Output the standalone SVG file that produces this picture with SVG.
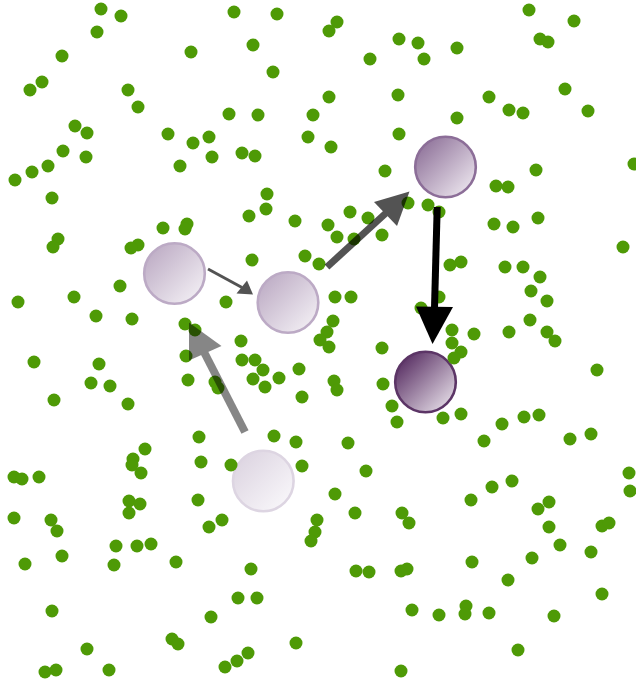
<svg xmlns="http://www.w3.org/2000/svg" width="636" height="682" viewBox="0 0 636 682">
  <style>
    .dot { fill: #4e9a06; }
    .node { stroke-width: 2.6; }
  </style>
  <defs>
    <linearGradient id="gLight" x1="0" y1="0" x2="1" y2="1">
      <stop offset="0" stop-color="#b7a4bf"/>
      <stop offset="1" stop-color="#f8f6f9"/>
    </linearGradient>
    <linearGradient id="gMid" x1="0" y1="0" x2="1" y2="1">
      <stop offset="0" stop-color="#846590"/>
      <stop offset="1" stop-color="#f6f2f7"/>
    </linearGradient>
    <linearGradient id="gDark" x1="0" y1="0" x2="1" y2="1">
      <stop offset="0.08" stop-color="#54295f"/>
      <stop offset="1" stop-color="#f4f0f5"/>
    </linearGradient>
    <linearGradient id="gPale" x1="0" y1="0" x2="1" y2="1">
      <stop offset="0" stop-color="#d9d0de"/>
      <stop offset="1" stop-color="#fcfbfd"/>
    </linearGradient>
  </defs>

  <!-- nodes -->
  <g id="node-a"><circle class="node" cx="174.5" cy="273.5" r="30.3" fill="url(#gLight)" stroke="#bcaac5"/></g>
  <g id="node-b"><circle class="node" cx="288" cy="302.5" r="30.3" fill="url(#gLight)" stroke="#bcaac5"/></g>
  <g id="node-c"><circle class="node" cx="445.5" cy="167" r="30.3" fill="url(#gMid)" stroke="#8c6e98"/></g>
  <g id="node-d"><circle class="node" cx="425.5" cy="382" r="30.3" fill="url(#gDark)" stroke="#5c3566" stroke-width="3"/></g>
  <g id="node-e"><circle class="node" cx="263.3" cy="481" r="30.3" fill="url(#gPale)" stroke="#ddd5e2"/></g>

  <!-- scattered particles -->
  <g id="particles">
    <circle class="dot" cx="101" cy="9" r="6.5"/>
    <circle class="dot" cx="121" cy="16" r="6.5"/>
    <circle class="dot" cx="97" cy="32" r="6.5"/>
    <circle class="dot" cx="62" cy="56" r="6.5"/>
    <circle class="dot" cx="42" cy="82" r="6.5"/>
    <circle class="dot" cx="30" cy="90" r="6.5"/>
    <circle class="dot" cx="128" cy="90" r="6.5"/>
    <circle class="dot" cx="138" cy="107" r="6.5"/>
    <circle class="dot" cx="75" cy="126" r="6.5"/>
    <circle class="dot" cx="87" cy="133" r="6.5"/>
    <circle class="dot" cx="63" cy="151" r="6.5"/>
    <circle class="dot" cx="86" cy="157" r="6.5"/>
    <circle class="dot" cx="48" cy="166" r="6.5"/>
    <circle class="dot" cx="32" cy="172" r="6.5"/>
    <circle class="dot" cx="15" cy="180" r="6.5"/>
    <circle class="dot" cx="52" cy="198" r="6.5"/>
    <circle class="dot" cx="168" cy="134" r="6.5"/>
    <circle class="dot" cx="193" cy="143" r="6.5"/>
    <circle class="dot" cx="209" cy="137" r="6.5"/>
    <circle class="dot" cx="212" cy="157" r="6.5"/>
    <circle class="dot" cx="180" cy="166" r="6.5"/>
    <circle class="dot" cx="191" cy="52" r="6.5"/>
    <circle class="dot" cx="234" cy="12" r="6.5"/>
    <circle class="dot" cx="277" cy="14" r="6.5"/>
    <circle class="dot" cx="253" cy="45" r="6.5"/>
    <circle class="dot" cx="273" cy="72" r="6.5"/>
    <circle class="dot" cx="229" cy="114" r="6.5"/>
    <circle class="dot" cx="258" cy="115" r="6.5"/>
    <circle class="dot" cx="313" cy="115" r="6.5"/>
    <circle class="dot" cx="308" cy="137" r="6.5"/>
    <circle class="dot" cx="242" cy="153" r="6.5"/>
    <circle class="dot" cx="255" cy="156" r="6.5"/>
    <circle class="dot" cx="267" cy="194" r="6.5"/>
    <circle class="dot" cx="266" cy="209" r="6.5"/>
    <circle class="dot" cx="249" cy="216" r="6.5"/>
    <circle class="dot" cx="295" cy="221" r="6.5"/>
    <circle class="dot" cx="163" cy="228" r="6.5"/>
    <circle class="dot" cx="187" cy="224" r="6.5"/>
    <circle class="dot" cx="185" cy="229" r="6.5"/>

    <circle class="dot" cx="337" cy="22" r="6.5"/>
    <circle class="dot" cx="329" cy="31" r="6.5"/>
    <circle class="dot" cx="399" cy="39" r="6.5"/>
    <circle class="dot" cx="418" cy="43" r="6.5"/>
    <circle class="dot" cx="457" cy="48" r="6.5"/>
    <circle class="dot" cx="370" cy="59" r="6.5"/>
    <circle class="dot" cx="424" cy="59" r="6.5"/>
    <circle class="dot" cx="529" cy="10" r="6.5"/>
    <circle class="dot" cx="574" cy="21" r="6.5"/>
    <circle class="dot" cx="540" cy="39" r="6.5"/>
    <circle class="dot" cx="548" cy="42" r="6.5"/>
    <circle class="dot" cx="329" cy="97" r="6.5"/>
    <circle class="dot" cx="398" cy="95" r="6.5"/>
    <circle class="dot" cx="489" cy="97" r="6.5"/>
    <circle class="dot" cx="565" cy="89" r="6.5"/>
    <circle class="dot" cx="509" cy="110" r="6.5"/>
    <circle class="dot" cx="523" cy="113" r="6.5"/>
    <circle class="dot" cx="588" cy="111" r="6.5"/>
    <circle class="dot" cx="457" cy="118" r="6.5"/>
    <circle class="dot" cx="399" cy="134" r="6.5"/>
    <circle class="dot" cx="331" cy="147" r="6.5"/>
    <circle class="dot" cx="634" cy="164" r="6.5"/>
    <circle class="dot" cx="536" cy="170" r="6.5"/>
    <circle class="dot" cx="385" cy="171" r="6.5"/>
    <circle class="dot" cx="496" cy="186" r="6.5"/>
    <circle class="dot" cx="508" cy="187" r="6.5"/>
    <circle class="dot" cx="408" cy="203" r="6.5"/>
    <circle class="dot" cx="428" cy="205" r="6.5"/>
    <circle class="dot" cx="439" cy="212" r="6.5"/>
    <circle class="dot" cx="350" cy="212" r="6.5"/>
    <circle class="dot" cx="368" cy="218" r="6.5"/>
    <circle class="dot" cx="328" cy="225" r="6.5"/>
    <circle class="dot" cx="494" cy="224" r="6.5"/>
    <circle class="dot" cx="513" cy="227" r="6.5"/>
    <circle class="dot" cx="538" cy="218" r="6.5"/>

    <circle class="dot" cx="58" cy="239" r="6.5"/>
    <circle class="dot" cx="53" cy="247" r="6.5"/>
    <circle class="dot" cx="138" cy="245" r="6.5"/>
    <circle class="dot" cx="131" cy="248" r="6.5"/>
    <circle class="dot" cx="252" cy="260" r="6.5"/>
    <circle class="dot" cx="305" cy="256" r="6.5"/>
    <circle class="dot" cx="319" cy="264" r="6.5"/>
    <circle class="dot" cx="120" cy="286" r="6.5"/>
    <circle class="dot" cx="18" cy="302" r="6.5"/>
    <circle class="dot" cx="74" cy="297" r="6.5"/>
    <circle class="dot" cx="96" cy="316" r="6.5"/>
    <circle class="dot" cx="132" cy="319" r="6.5"/>
    <circle class="dot" cx="226" cy="302" r="6.5"/>
    <circle class="dot" cx="185" cy="324" r="6.5"/>
    <circle class="dot" cx="195" cy="330" r="6.5"/>
    <circle class="dot" cx="186" cy="356" r="6.5"/>
    <circle class="dot" cx="241" cy="341" r="6.5"/>
    <circle class="dot" cx="242" cy="360" r="6.5"/>
    <circle class="dot" cx="255" cy="360" r="6.5"/>
    <circle class="dot" cx="263" cy="370" r="6.5"/>
    <circle class="dot" cx="253" cy="379" r="6.5"/>
    <circle class="dot" cx="265" cy="387" r="6.5"/>
    <circle class="dot" cx="279" cy="378" r="6.5"/>
    <circle class="dot" cx="299" cy="369" r="6.5"/>
    <circle class="dot" cx="302" cy="397" r="6.5"/>
    <circle class="dot" cx="34" cy="362" r="6.5"/>
    <circle class="dot" cx="99" cy="364" r="6.5"/>
    <circle class="dot" cx="91" cy="383" r="6.5"/>
    <circle class="dot" cx="110" cy="386" r="6.5"/>
    <circle class="dot" cx="54" cy="400" r="6.5"/>
    <circle class="dot" cx="128" cy="404" r="6.5"/>
    <circle class="dot" cx="188" cy="380" r="6.5"/>
    <circle class="dot" cx="215" cy="382" r="6.5"/>
    <circle class="dot" cx="218" cy="388" r="6.5"/>
    <circle class="dot" cx="199" cy="437" r="6.5"/>
    <circle class="dot" cx="274" cy="436" r="6.5"/>
    <circle class="dot" cx="296" cy="442" r="6.5"/>
    <circle class="dot" cx="145" cy="449" r="6.5"/>

    <circle class="dot" cx="337" cy="237" r="6.5"/>
    <circle class="dot" cx="354" cy="239" r="6.5"/>
    <circle class="dot" cx="382" cy="235" r="6.5"/>
    <circle class="dot" cx="623" cy="247" r="6.5"/>
    <circle class="dot" cx="450" cy="265" r="6.5"/>
    <circle class="dot" cx="461" cy="262" r="6.5"/>
    <circle class="dot" cx="505" cy="267" r="6.5"/>
    <circle class="dot" cx="523" cy="267" r="6.5"/>
    <circle class="dot" cx="540" cy="277" r="6.5"/>
    <circle class="dot" cx="531" cy="291" r="6.5"/>
    <circle class="dot" cx="547" cy="301" r="6.5"/>
    <circle class="dot" cx="335" cy="297" r="6.5"/>
    <circle class="dot" cx="351" cy="297" r="6.5"/>
    <circle class="dot" cx="439" cy="297" r="6.5"/>
    <circle class="dot" cx="421" cy="308" r="6.5"/>
    <circle class="dot" cx="333" cy="321" r="6.5"/>
    <circle class="dot" cx="327" cy="332" r="6.5"/>
    <circle class="dot" cx="320" cy="340" r="6.5"/>
    <circle class="dot" cx="329" cy="347" r="6.5"/>
    <circle class="dot" cx="382" cy="348" r="6.5"/>
    <circle class="dot" cx="452" cy="330" r="6.5"/>
    <circle class="dot" cx="452" cy="343" r="6.5"/>
    <circle class="dot" cx="474" cy="334" r="6.5"/>
    <circle class="dot" cx="461" cy="352" r="6.5"/>
    <circle class="dot" cx="454" cy="358" r="6.5"/>
    <circle class="dot" cx="509" cy="332" r="6.5"/>
    <circle class="dot" cx="530" cy="320" r="6.5"/>
    <circle class="dot" cx="547" cy="332" r="6.5"/>
    <circle class="dot" cx="555" cy="341" r="6.5"/>
    <circle class="dot" cx="597" cy="370" r="6.5"/>
    <circle class="dot" cx="334" cy="381" r="6.5"/>
    <circle class="dot" cx="337" cy="390" r="6.5"/>
    <circle class="dot" cx="383" cy="384" r="6.5"/>
    <circle class="dot" cx="392" cy="406" r="6.5"/>
    <circle class="dot" cx="397" cy="422" r="6.5"/>
    <circle class="dot" cx="443" cy="418" r="6.5"/>
    <circle class="dot" cx="461" cy="414" r="6.5"/>
    <circle class="dot" cx="502" cy="424" r="6.5"/>
    <circle class="dot" cx="524" cy="417" r="6.5"/>
    <circle class="dot" cx="539" cy="415" r="6.5"/>
    <circle class="dot" cx="484" cy="441" r="6.5"/>
    <circle class="dot" cx="570" cy="439" r="6.5"/>
    <circle class="dot" cx="591" cy="434" r="6.5"/>
    <circle class="dot" cx="348" cy="443" r="6.5"/>

    <circle class="dot" cx="14" cy="477" r="6.5"/>
    <circle class="dot" cx="22" cy="479" r="6.5"/>
    <circle class="dot" cx="39" cy="477" r="6.5"/>
    <circle class="dot" cx="133" cy="459" r="6.5"/>
    <circle class="dot" cx="132" cy="465" r="6.5"/>
    <circle class="dot" cx="141" cy="473" r="6.5"/>
    <circle class="dot" cx="201" cy="462" r="6.5"/>
    <circle class="dot" cx="231" cy="465" r="6.5"/>
    <circle class="dot" cx="302" cy="466" r="6.5"/>
    <circle class="dot" cx="14" cy="518" r="6.5"/>
    <circle class="dot" cx="51" cy="520" r="6.5"/>
    <circle class="dot" cx="57" cy="531" r="6.5"/>
    <circle class="dot" cx="129" cy="501" r="6.5"/>
    <circle class="dot" cx="140" cy="504" r="6.5"/>
    <circle class="dot" cx="129" cy="513" r="6.5"/>
    <circle class="dot" cx="198" cy="500" r="6.5"/>
    <circle class="dot" cx="222" cy="520" r="6.5"/>
    <circle class="dot" cx="209" cy="527" r="6.5"/>
    <circle class="dot" cx="317" cy="520" r="6.5"/>
    <circle class="dot" cx="315" cy="532" r="6.5"/>
    <circle class="dot" cx="311" cy="541" r="6.5"/>
    <circle class="dot" cx="62" cy="556" r="6.5"/>
    <circle class="dot" cx="25" cy="564" r="6.5"/>
    <circle class="dot" cx="116" cy="546" r="6.5"/>
    <circle class="dot" cx="137" cy="546" r="6.5"/>
    <circle class="dot" cx="151" cy="544" r="6.5"/>
    <circle class="dot" cx="114" cy="565" r="6.5"/>
    <circle class="dot" cx="176" cy="562" r="6.5"/>
    <circle class="dot" cx="251" cy="569" r="6.5"/>
    <circle class="dot" cx="238" cy="598" r="6.5"/>
    <circle class="dot" cx="257" cy="598" r="6.5"/>
    <circle class="dot" cx="52" cy="611" r="6.5"/>
    <circle class="dot" cx="211" cy="617" r="6.5"/>
    <circle class="dot" cx="172" cy="639" r="6.5"/>
    <circle class="dot" cx="178" cy="644" r="6.5"/>
    <circle class="dot" cx="87" cy="649" r="6.5"/>
    <circle class="dot" cx="296" cy="643" r="6.5"/>
    <circle class="dot" cx="248" cy="653" r="6.5"/>
    <circle class="dot" cx="237" cy="661" r="6.5"/>
    <circle class="dot" cx="225" cy="667" r="6.5"/>
    <circle class="dot" cx="45" cy="672" r="6.5"/>
    <circle class="dot" cx="56" cy="670" r="6.5"/>
    <circle class="dot" cx="109" cy="670" r="6.5"/>

    <circle class="dot" cx="366" cy="471" r="6.5"/>
    <circle class="dot" cx="335" cy="494" r="6.5"/>
    <circle class="dot" cx="355" cy="513" r="6.5"/>
    <circle class="dot" cx="402" cy="513" r="6.5"/>
    <circle class="dot" cx="409" cy="523" r="6.5"/>
    <circle class="dot" cx="471" cy="500" r="6.5"/>
    <circle class="dot" cx="492" cy="487" r="6.5"/>
    <circle class="dot" cx="512" cy="481" r="6.5"/>
    <circle class="dot" cx="538" cy="509" r="6.5"/>
    <circle class="dot" cx="549" cy="502" r="6.5"/>
    <circle class="dot" cx="549" cy="527" r="6.5"/>
    <circle class="dot" cx="560" cy="545" r="6.5"/>
    <circle class="dot" cx="629" cy="473" r="6.5"/>
    <circle class="dot" cx="630" cy="491" r="6.5"/>
    <circle class="dot" cx="602" cy="526" r="6.5"/>
    <circle class="dot" cx="609" cy="523" r="6.5"/>
    <circle class="dot" cx="591" cy="552" r="6.5"/>
    <circle class="dot" cx="472" cy="562" r="6.5"/>
    <circle class="dot" cx="532" cy="558" r="6.5"/>
    <circle class="dot" cx="508" cy="580" r="6.5"/>
    <circle class="dot" cx="356" cy="571" r="6.5"/>
    <circle class="dot" cx="369" cy="572" r="6.5"/>
    <circle class="dot" cx="401" cy="571" r="6.5"/>
    <circle class="dot" cx="407" cy="569" r="6.5"/>
    <circle class="dot" cx="602" cy="594" r="6.5"/>
    <circle class="dot" cx="412" cy="610" r="6.5"/>
    <circle class="dot" cx="439" cy="615" r="6.5"/>
    <circle class="dot" cx="466" cy="606" r="6.5"/>
    <circle class="dot" cx="465" cy="614" r="6.5"/>
    <circle class="dot" cx="489" cy="613" r="6.5"/>
    <circle class="dot" cx="554" cy="616" r="6.5"/>
    <circle class="dot" cx="518" cy="650" r="6.5"/>
    <circle class="dot" cx="401" cy="671" r="6.5"/>
  </g>

  <!-- connectors: translucent shafts with triangular heads -->
  <g id="connectors">
    <g id="edge-a-b" opacity="0.67">
      <line x1="208" y1="269" x2="242" y2="287.5" stroke="#000" stroke-width="3"/>
      <polygon points="253,294.5 236.5,293.5 247,280.5" fill="#000"/>
    </g>
    <g id="edge-b-c" opacity="0.67">
      <line x1="327" y1="267" x2="386" y2="213" stroke="#000" stroke-width="7"/>
      <polygon points="409.5,191.5 374,202 397,226" fill="#000"/>
    </g>
    <g id="edge-e-a" opacity="0.47">
      <line x1="245" y1="432" x2="204" y2="352" stroke="#000" stroke-width="8"/>
      <polygon points="189,322.5 189,360.5 221.5,346" fill="#000"/>
    </g>
    <g id="edge-c-d">
      <line x1="437.2" y1="207" x2="434.5" y2="308" stroke="#000" stroke-width="7"/>
      <polygon points="432.5,344 416,306.5 453,307" fill="#000"/>
    </g>
  </g>
</svg>
